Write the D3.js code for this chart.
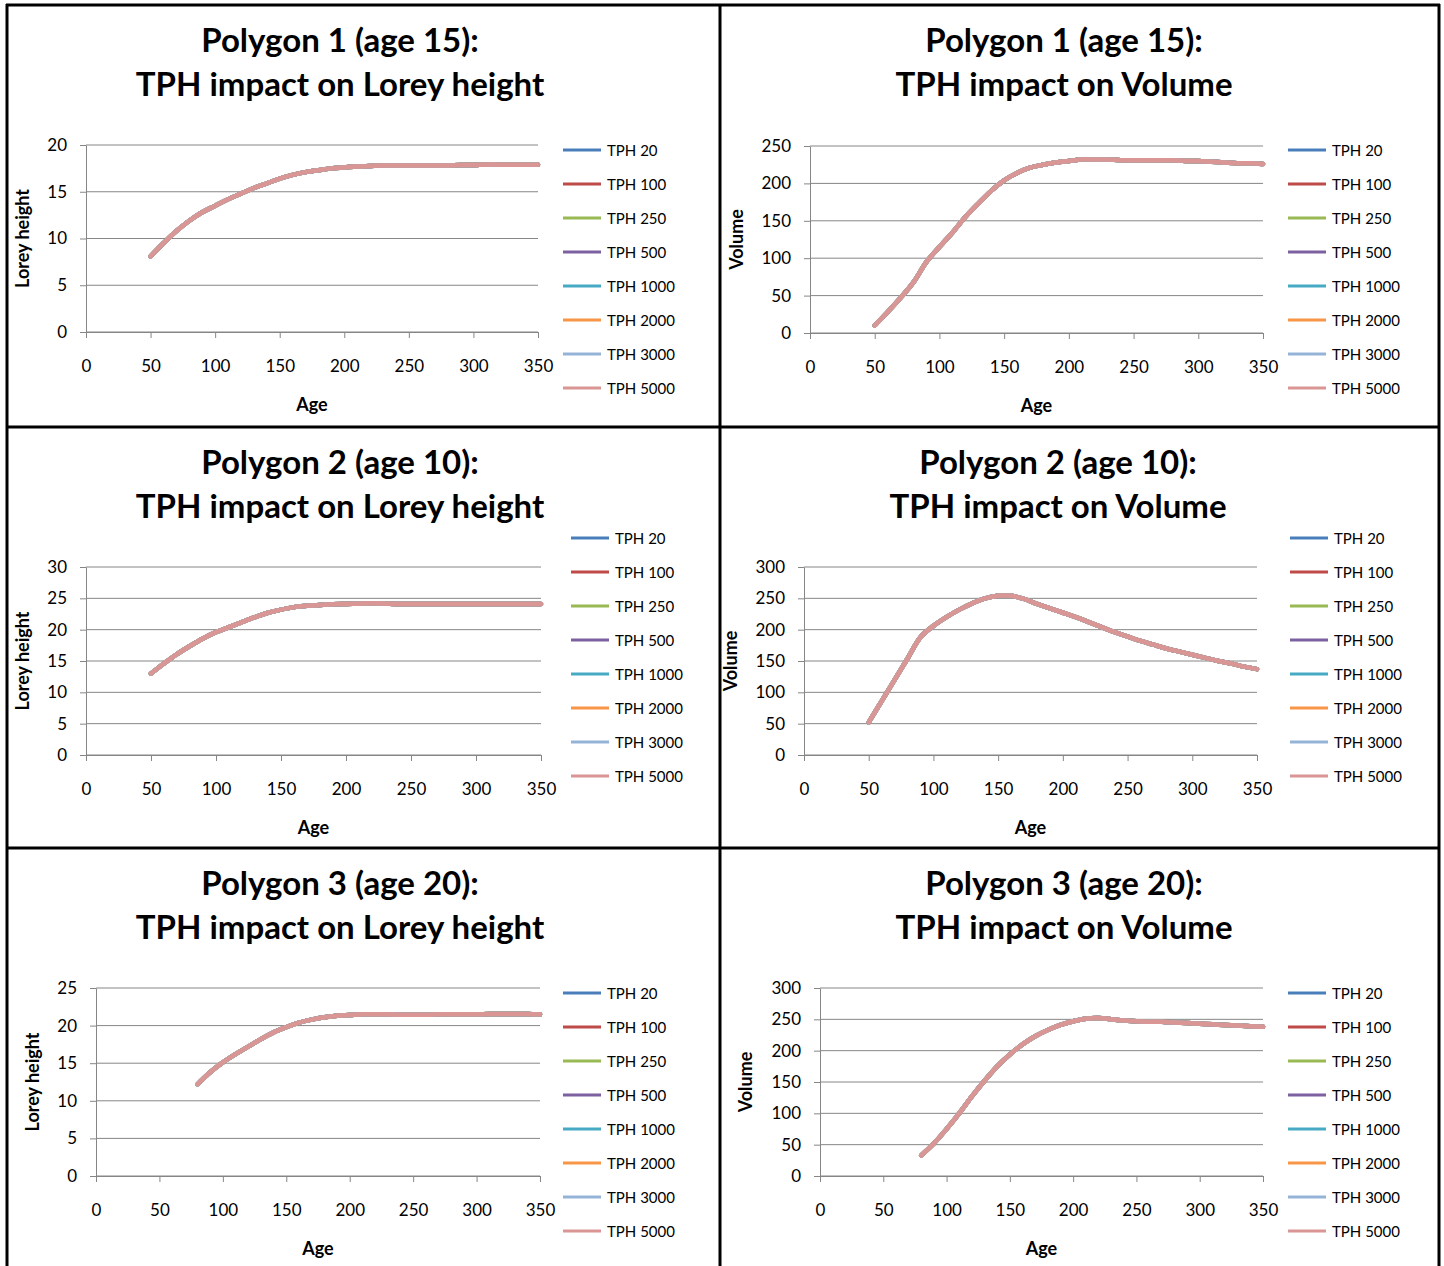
<!DOCTYPE html>
<html lang="en">
    <head>
        <meta charset="UTF-8" />
        <title>TPH impact on Lorey height and Volume</title>
        <script src="https://d3js.org/d3.v7.min.js"></script>
        <style>
            body {
                margin: 0;
                background: #fff;
            }

            svg {
                display: block;
                font-family: Lato, 'Open Sans', sans-serif;
            }

            .title {
                font-size: 33px;
                font-weight: bold;
            }

            .axis-title {
                font-size: 18px;
                font-weight: bold;
            }

            .tick-label {
                font-size: 17px;
            }

            .legend-label {
                font-size: 15px;
            }

            .line {
                fill: none;
                stroke-width: 4.5px;
                stroke-linejoin: round;
                stroke-linecap: round;
            }
        </style>
    </head>
    <body>
        <svg width="1444" height="1266"></svg>

        <script>
            // series shown in every panel (all TPH curves coincide in the picture)
            const tphLabels = ['TPH 20', 'TPH 100', 'TPH 250', 'TPH 500', 'TPH 1000', 'TPH 2000', 'TPH 3000', 'TPH 5000'];
            const tphColors = ['#4a7ebb', '#be4b48', '#98b954', '#7d60a0', '#46aac5', '#f79646', '#95b3d7', '#d99694'];

            const xTicks = [0, 50, 100, 150, 200, 250, 300, 350];

            // Polygon 1 (age 15)
            const ages1 = [50, 60, 70, 80, 90, 100, 110, 120, 130, 140, 150, 160, 170, 180, 190, 200, 210, 220, 230, 240, 250, 260, 270, 280, 290, 300, 310, 320, 330, 340, 350];
            const lorey1 = [8.1, 9.5, 10.8, 11.9, 12.8, 13.5, 14.2, 14.8, 15.4, 15.9, 16.4, 16.8, 17.1, 17.3, 17.5, 17.6, 17.7, 17.75, 17.8, 17.8, 17.8, 17.8, 17.8, 17.8, 17.85, 17.85, 17.9, 17.9, 17.9, 17.9, 17.9];
            const volume1 = [10, 28, 47, 68, 95, 115, 134, 155, 173, 190, 204, 214, 221, 225, 228, 230, 232, 232, 232, 231, 231, 231, 231, 231, 230, 230, 229, 228, 227, 227, 226];

            // Polygon 2 (age 10)
            const ages2 = [50, 60, 70, 80, 90, 100, 110, 120, 130, 140, 150, 160, 170, 180, 190, 200, 210, 220, 230, 240, 250, 260, 270, 280, 290, 300, 310, 320, 330, 340, 350];
            const lorey2 = [13, 14.6, 16.1, 17.4, 18.6, 19.6, 20.4, 21.2, 22.0, 22.7, 23.2, 23.6, 23.8, 23.95, 24.05, 24.1, 24.15, 24.2, 24.15, 24.1, 24.1, 24.1, 24.1, 24.1, 24.1, 24.1, 24.1, 24.1, 24.1, 24.1, 24.1];
            const volume2 = [52, 86, 120, 154, 188, 206, 220, 232, 242, 250, 254, 254, 249, 241, 234, 227, 220, 212, 204, 196, 189, 182, 176, 170, 165, 160, 155, 150, 146, 141, 137];

            // Polygon 3 (age 20)
            const ages3 = [80, 90, 100, 110, 120, 130, 140, 150, 160, 170, 180, 190, 200, 210, 220, 230, 240, 250, 260, 270, 280, 290, 300, 310, 320, 330, 340, 350];
            const lorey3 = [12.2, 13.8, 15.1, 16.2, 17.2, 18.2, 19.1, 19.8, 20.4, 20.8, 21.1, 21.3, 21.4, 21.5, 21.5, 21.5, 21.45, 21.45, 21.45, 21.5, 21.5, 21.5, 21.5, 21.55, 21.55, 21.55, 21.55, 21.5];
            const volume3 = [33, 52, 75, 100, 127, 152, 175, 194, 210, 223, 233, 241, 247, 251, 252, 250, 248, 247, 246, 246, 245, 244, 243, 242, 241, 240, 239, 238];

            const panels = [
                {
                    titles: ['Polygon 1 (age 15):', 'TPH impact on Lorey height'], yTitle: 'Lorey height',
                    ages: ages1, values: lorey1, yMax: 20, yStep: 5,
                    left: 86, right: 538, top: 145, bottom: 332, legendX: 563, legendY: 150, titleX: 340, titleY: 39, yTitleX: 22,
                },
                {
                    titles: ['Polygon 1 (age 15):', 'TPH impact on Volume'], yTitle: 'Volume',
                    ages: ages1, values: volume1, yMax: 250, yStep: 50,
                    left: 810, right: 1263, top: 146, bottom: 333, legendX: 1288, legendY: 150, titleX: 1064, titleY: 39, yTitleX: 736,
                },
                {
                    titles: ['Polygon 2 (age 10):', 'TPH impact on Lorey height'], yTitle: 'Lorey height',
                    ages: ages2, values: lorey2, yMax: 30, yStep: 5,
                    left: 86, right: 541, top: 567, bottom: 755, legendX: 571, legendY: 538, titleX: 340, titleY: 461, yTitleX: 22,
                },
                {
                    titles: ['Polygon 2 (age 10):', 'TPH impact on Volume'], yTitle: 'Volume',
                    ages: ages2, values: volume2, yMax: 300, yStep: 50,
                    left: 804, right: 1257, top: 567, bottom: 755, legendX: 1290, legendY: 538, titleX: 1058, titleY: 461, yTitleX: 730,
                },
                {
                    titles: ['Polygon 3 (age 20):', 'TPH impact on Lorey height'], yTitle: 'Lorey height',
                    ages: ages3, values: lorey3, yMax: 25, yStep: 5,
                    left: 96, right: 540, top: 988, bottom: 1176, legendX: 563, legendY: 993, titleX: 340, titleY: 882, yTitleX: 32,
                },
                {
                    titles: ['Polygon 3 (age 20):', 'TPH impact on Volume'], yTitle: 'Volume',
                    ages: ages3, values: volume3, yMax: 300, yStep: 50,
                    left: 820, right: 1263, top: 988, bottom: 1176, legendX: 1288, legendY: 993, titleX: 1064, titleY: 882, yTitleX: 745,
                },
            ];

            const svg = d3.select('svg');
            const gridColor = '#868686';

            function drawPanel(p) {
                const g = svg.append('g');
                const x = d3.scaleLinear().domain([0, 350]).range([p.left, p.right]);
                const y = d3.scaleLinear().domain([0, p.yMax]).range([p.bottom, p.top]);
                const yTicks = d3.range(0, p.yMax + 1, p.yStep);

                // titles
                g.selectAll('.title')
                    .data(p.titles)
                    .enter()
                    .append('text')
                    .attr('class', 'title')
                    .attr('x', p.titleX)
                    .attr('y', (d, i) => p.titleY + i * 44)
                    .attr('text-anchor', 'middle')
                    .attr('dominant-baseline', 'central')
                    .text((d) => d);

                // horizontal gridlines
                g.selectAll('.grid')
                    .data(yTicks)
                    .enter()
                    .append('line')
                    .attr('x1', p.left)
                    .attr('x2', p.right)
                    .attr('y1', (d) => y(d))
                    .attr('y2', (d) => y(d))
                    .attr('stroke', gridColor)
                    .attr('stroke-width', 1);

                // y axis
                const yAxis = g
                    .append('g')
                    .attr('transform', `translate(${p.left},0)`)
                    .call(d3.axisLeft(y).tickValues(yTicks).tickSize(6).tickSizeOuter(0).tickPadding(13));
                // x axis
                const xAxis = g
                    .append('g')
                    .attr('transform', `translate(0,${p.bottom})`)
                    .call(d3.axisBottom(x).tickValues(xTicks).tickSize(6).tickSizeOuter(0).tickPadding(26));

                [yAxis, xAxis].forEach((a) => {
                    a.select('.domain').attr('stroke', gridColor);
                    a.selectAll('.tick line').attr('stroke', gridColor);
                    a.selectAll('.tick text')
                        .attr('class', 'tick-label')
                        .attr('fill', '#000')
                        .style('font-family', 'Lato, sans-serif');
                });
                xAxis.selectAll('.tick text').attr('dy', '0.45em');

                // axis titles
                g.append('text')
                    .attr('class', 'axis-title')
                    .attr('x', (p.left + p.right) / 2)
                    .attr('y', p.bottom + 72)
                    .attr('text-anchor', 'middle')
                    .attr('dominant-baseline', 'central')
                    .text('Age');

                g.append('text')
                    .attr('class', 'axis-title')
                    .attr('transform', `translate(${p.yTitleX},${(p.top + p.bottom) / 2}) rotate(-90)`)
                    .attr('text-anchor', 'middle')
                    .attr('dominant-baseline', 'central')
                    .text(p.yTitle);

                // lines
                const line = d3
                    .line()
                    .curve(d3.curveCatmullRom.alpha(0.5))
                    .x((d) => x(d.age))
                    .y((d) => y(d.value));

                const series = tphLabels.map((label) => p.ages.map((age, i) => ({ label, age, value: p.values[i] })));

                g.selectAll('.line')
                    .data(series)
                    .enter()
                    .append('path')
                    .attr('class', 'line')
                    .attr('d', (d) => line(d))
                    .style('stroke', (d, i) => tphColors[i]);

                // legend
                const legend = g
                    .selectAll('.legend')
                    .data(tphLabels)
                    .enter()
                    .append('g')
                    .attr('transform', (d, i) => `translate(${p.legendX},${p.legendY + i * 34})`);

                legend
                    .append('line')
                    .attr('x1', 0)
                    .attr('x2', 38)
                    .attr('stroke', (d, i) => tphColors[i])
                    .attr('stroke-width', 3);

                legend
                    .append('text')
                    .attr('class', 'legend-label')
                    .attr('x', 44)
                    .attr('dominant-baseline', 'central')
                    .text((d) => d);
            }

            panels.forEach(drawPanel);

            // table borders
            const vLines = [7, 720, 1439];
            const hLines = [5, 427, 848];
            svg.selectAll('.vborder')
                .data(vLines)
                .enter()
                .append('line')
                .attr('x1', (d) => d)
                .attr('x2', (d) => d)
                .attr('y1', 4)
                .attr('y2', 1266)
                .attr('stroke', '#000')
                .attr('stroke-width', 3);
            svg.selectAll('.hborder')
                .data(hLines)
                .enter()
                .append('line')
                .attr('x1', 6)
                .attr('x2', 1440)
                .attr('y1', (d) => d)
                .attr('y2', (d) => d)
                .attr('stroke', '#000')
                .attr('stroke-width', 3);
        </script>
    </body>
</html>
